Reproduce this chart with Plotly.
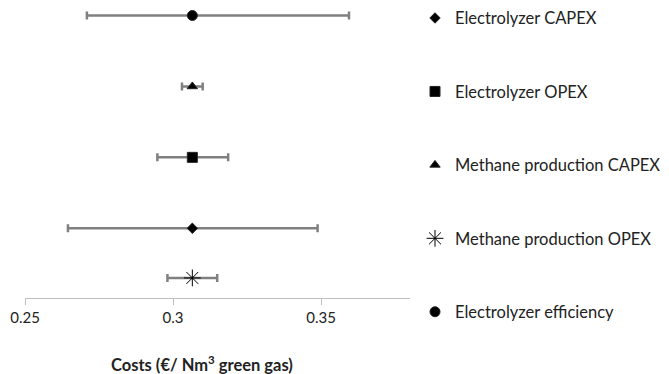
import plotly.graph_objects as go

names = ["Electrolyzer CAPEX", "Electrolyzer OPEX", "Methane production CAPEX",
         "Methane production OPEX", "Electrolyzer efficiency"]
symbols = ["diamond", "square", "triangle-up", "asterisk-open", "circle"]
sizes = [8, 10, 9, 14, 10]
center = [0.3065, 0.3065, 0.3065, 0.3065, 0.3065]
low = [0.2645, 0.2947, 0.3030, 0.2981, 0.2709]
high = [0.3488, 0.3186, 0.3100, 0.3149, 0.3594]
ypos = [2, 3, 4, 1.30, 5]

tick_vals = [0.25, 0.3, 0.35]
tick_text = ["0.25", "0.3", "0.35"]
x_title = "<b>Costs (€/ Nm<sup>3</sup> green gas)</b>"

FONT = "Lato"
fig = go.Figure()
for i, n in enumerate(names):
    fig.add_trace(go.Scatter(
        x=[center[i]], y=[ypos[i]], mode="markers", name=n, legendgroup=n,
        marker=dict(symbol=symbols[i], size=sizes[i], color="black",
                    line=dict(color="#222222", width=1)),
        error_x=dict(type="data", symmetric=False,
                     array=[high[i] - center[i]], arrayminus=[center[i] - low[i]],
                     color="#808080", thickness=2.5, width=4),
    ))

fig.add_annotation(text=x_title, xref="paper", yref="paper", x=0.461, y=-0.226,
                   xanchor="center", yanchor="middle", showarrow=False,
                   font=dict(family=FONT, size=16.5, color="#222222"))

fig.update_layout(
    width=669, height=374,
    margin=dict(l=17, r=267, t=0, b=84, autoexpand=False),
    paper_bgcolor="white", plot_bgcolor="white",
    font=dict(family=FONT, size=14, color="#222222"),
    xaxis=dict(range=[0.25, 0.38], tickvals=tick_vals, ticktext=tick_text,
               automargin=False,
               showgrid=False, zeroline=False, showline=True, linecolor="#bfbfbf",
               linewidth=1, ticks="outside", ticklen=6, tickcolor="#bfbfbf",
               tickfont=dict(size=15, color="#222222")),
    yaxis=dict(range=[1.017, 5.106], visible=False, automargin=False),
    legend=dict(x=1.013, xanchor="left", y=1.025, yanchor="top",
                traceorder="grouped", tracegroupgap=49, maxheight=374,
                font=dict(size=16.5, color="#222222"), itemsizing="trace"),
    showlegend=True,
)
fig.write_html("out.html")
